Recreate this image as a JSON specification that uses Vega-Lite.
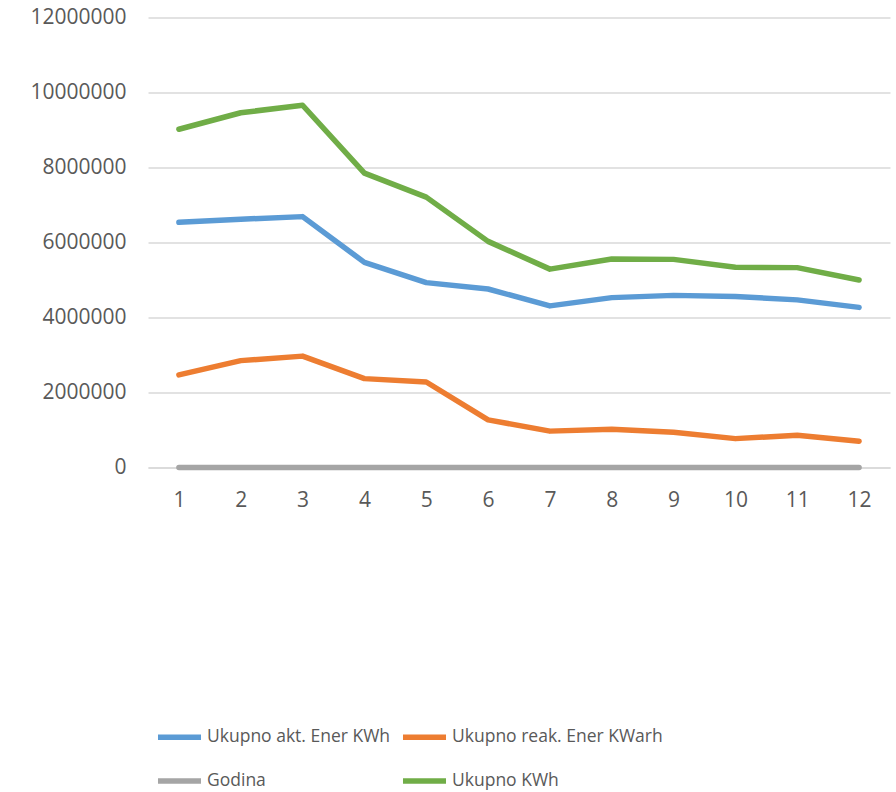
{
  "$schema": "https://vega.github.io/schema/vega-lite/v6.json",
  "width": 742,
  "height": 450,
  "autosize": {"type": "none"},
  "padding": {"left": 148, "top": 17.5, "right": 6, "bottom": 324.5},
  "background": "white",
  "config": {
    "view": {"stroke": null},
    "font": "Open Sans"
  },
  "data": {
    "values": [
      {"m": 1, "s": "Ukupno akt. Ener KWh", "v": 6540000},
      {"m": 2, "s": "Ukupno akt. Ener KWh", "v": 6620000},
      {"m": 3, "s": "Ukupno akt. Ener KWh", "v": 6690000},
      {"m": 4, "s": "Ukupno akt. Ener KWh", "v": 5470000},
      {"m": 5, "s": "Ukupno akt. Ener KWh", "v": 4930000},
      {"m": 6, "s": "Ukupno akt. Ener KWh", "v": 4760000},
      {"m": 7, "s": "Ukupno akt. Ener KWh", "v": 4310000},
      {"m": 8, "s": "Ukupno akt. Ener KWh", "v": 4530000},
      {"m": 9, "s": "Ukupno akt. Ener KWh", "v": 4590000},
      {"m": 10, "s": "Ukupno akt. Ener KWh", "v": 4560000},
      {"m": 11, "s": "Ukupno akt. Ener KWh", "v": 4470000},
      {"m": 12, "s": "Ukupno akt. Ener KWh", "v": 4270000},
      {"m": 1, "s": "Ukupno reak. Ener KWarh", "v": 2470000},
      {"m": 2, "s": "Ukupno reak. Ener KWarh", "v": 2850000},
      {"m": 3, "s": "Ukupno reak. Ener KWarh", "v": 2970000},
      {"m": 4, "s": "Ukupno reak. Ener KWarh", "v": 2370000},
      {"m": 5, "s": "Ukupno reak. Ener KWarh", "v": 2280000},
      {"m": 6, "s": "Ukupno reak. Ener KWarh", "v": 1270000},
      {"m": 7, "s": "Ukupno reak. Ener KWarh", "v": 970000},
      {"m": 8, "s": "Ukupno reak. Ener KWarh", "v": 1020000},
      {"m": 9, "s": "Ukupno reak. Ener KWarh", "v": 940000},
      {"m": 10, "s": "Ukupno reak. Ener KWarh", "v": 770000},
      {"m": 11, "s": "Ukupno reak. Ener KWarh", "v": 860000},
      {"m": 12, "s": "Ukupno reak. Ener KWarh", "v": 700000},
      {"m": 1, "s": "Godina", "v": 2019},
      {"m": 2, "s": "Godina", "v": 2019},
      {"m": 3, "s": "Godina", "v": 2019},
      {"m": 4, "s": "Godina", "v": 2019},
      {"m": 5, "s": "Godina", "v": 2019},
      {"m": 6, "s": "Godina", "v": 2019},
      {"m": 7, "s": "Godina", "v": 2019},
      {"m": 8, "s": "Godina", "v": 2019},
      {"m": 9, "s": "Godina", "v": 2019},
      {"m": 10, "s": "Godina", "v": 2019},
      {"m": 11, "s": "Godina", "v": 2019},
      {"m": 12, "s": "Godina", "v": 2019},
      {"m": 1, "s": "Ukupno KWh", "v": 9020000},
      {"m": 2, "s": "Ukupno KWh", "v": 9460000},
      {"m": 3, "s": "Ukupno KWh", "v": 9660000},
      {"m": 4, "s": "Ukupno KWh", "v": 7850000},
      {"m": 5, "s": "Ukupno KWh", "v": 7210000},
      {"m": 6, "s": "Ukupno KWh", "v": 6030000},
      {"m": 7, "s": "Ukupno KWh", "v": 5290000},
      {"m": 8, "s": "Ukupno KWh", "v": 5560000},
      {"m": 9, "s": "Ukupno KWh", "v": 5550000},
      {"m": 10, "s": "Ukupno KWh", "v": 5340000},
      {"m": 11, "s": "Ukupno KWh", "v": 5330000},
      {"m": 12, "s": "Ukupno KWh", "v": 5000000}
    ]
  },
  "mark": {"type": "line", "strokeWidth": 5.5, "strokeCap": "round", "strokeJoin": "round"},
  "encoding": {
    "x": {
      "field": "m", "type": "ordinal",
      "scale": {"type": "point", "padding": 0.5},
      "axis": {
        "title": null, "labelAngle": 0, "ticks": false,
        "domainColor": "#D9D9D9", "domainWidth": 1.5,
        "labelColor": "#595959", "labelFontSize": 21, "labelPadding": 22,
        "grid": false
      }
    },
    "y": {
      "field": "v", "type": "quantitative",
      "scale": {"domain": [0, 12000000], "nice": false},
      "axis": {
        "title": null, "values": [0, 2000000, 4000000, 6000000, 8000000, 10000000, 12000000],
        "format": "d", "ticks": false, "domain": false,
        "gridColor": "#D9D9D9", "gridWidth": 1.5,
        "labelColor": "#595959", "labelFontSize": 21, "labelPadding": 22
      }
    },
    "color": {
      "field": "s", "type": "nominal",
      "sort": ["Ukupno akt. Ener KWh", "Ukupno reak. Ener KWarh", "Godina", "Ukupno KWh"],
      "scale": {
        "domain": ["Ukupno akt. Ener KWh", "Ukupno reak. Ener KWarh", "Godina", "Ukupno KWh"],
        "range": ["#5B9BD5", "#ED7D31", "#A5A5A5", "#70AD47"]
      },
      "legend": {
        "title": null, "orient": "none", "legendX": 7, "legendY": 695,
        "direction": "horizontal", "columns": 2,
        "symbolType": "stroke", "symbolSize": 1850, "symbolStrokeWidth": 5.5,
        "labelFontSize": 17.5, "labelColor": "#595959", "labelOffset": 3,
        "columnPadding": 0, "rowPadding": 8, "labelLimit": 400
      }
    },
    "order": {"field": "s"}
  }
}
